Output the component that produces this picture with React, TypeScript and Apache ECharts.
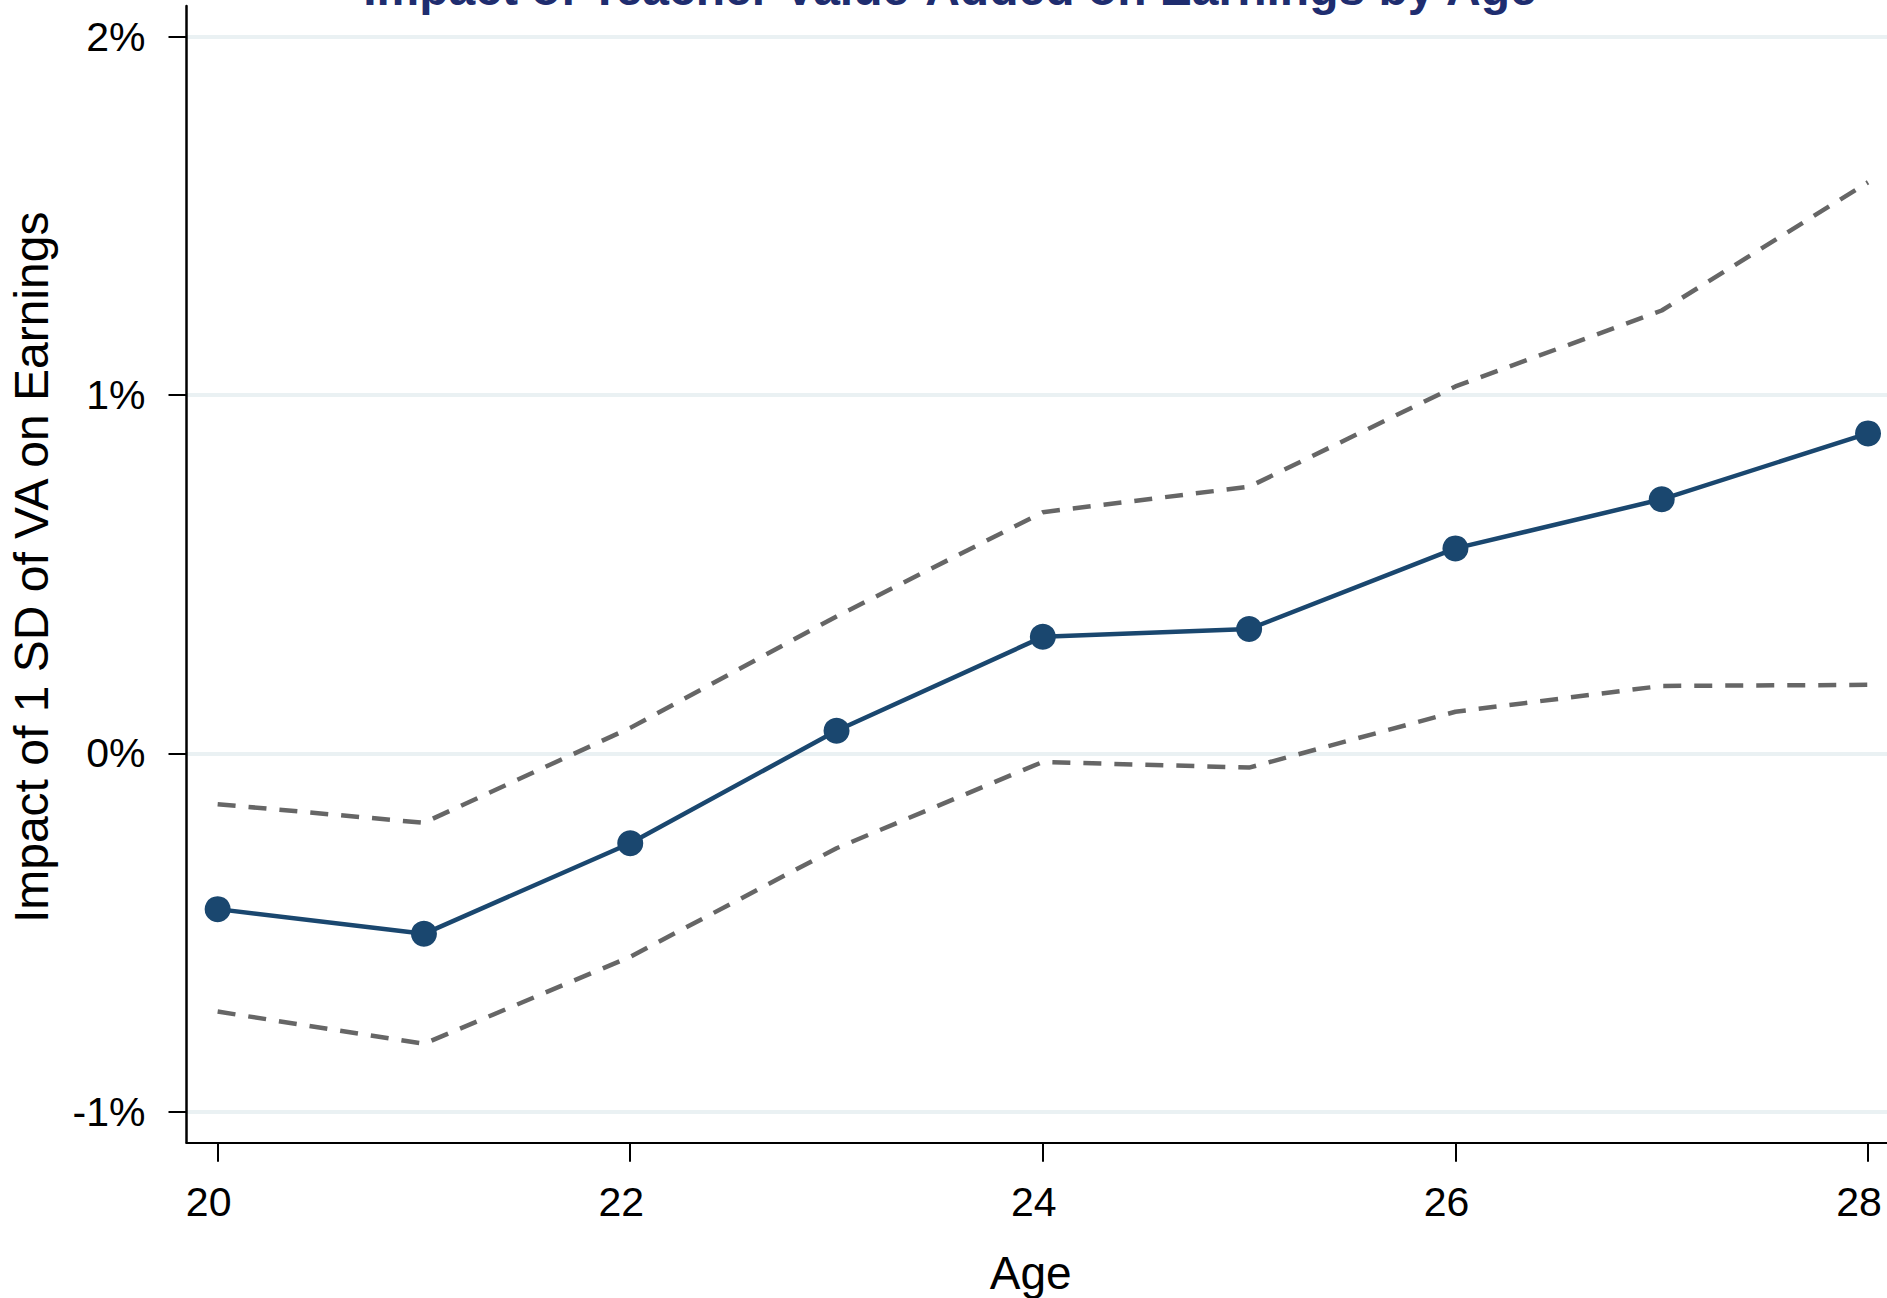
import React, { useEffect, useRef } from "react";
import * as echarts from "echarts";

const ages = [20, 21, 22, 23, 24, 25, 26, 27, 28];
const estimate = [-0.435, -0.504, -0.251, 0.063, 0.325, 0.347, 0.572, 0.709, 0.893];
const upperCI = [-0.142, -0.194, 0.071, 0.382, 0.673, 0.744, 1.024, 1.236, 1.594];
const lowerCI = [-0.721, -0.811, -0.568, -0.265, -0.024, -0.04, 0.116, 0.188, 0.191];
const xTicks = [20, 22, 24, 26, 28];
const yTicks = [-1, 0, 1, 2];

const titleText = "Impact of Teacher Value-Added on Earnings by Age";
const xName = "Age";
const yName = "Impact of 1 SD of VA on Earnings";

const FONT = "'Liberation Sans', Arial, Helvetica, sans-serif";

export default function App() {
  const ref = useRef<HTMLDivElement>(null);

  useEffect(() => {
    if (!ref.current) return;
    const chart = echarts.init(ref.current, undefined, { renderer: "svg" });
    const pairs = (ys: number[]) => ages.map((a, i) => [a, ys[i]]);
    chart.setOption({
      animation: false,
      backgroundColor: "#ffffff",
      title: {
        text: titleText,
        left: 950,
        textAlign: "center",
        top: -36,
        padding: 0,
        textStyle: {
          fontFamily: FONT,
          fontSize: 48,
          fontWeight: "bold",
          color: "#1f2d6f",
        },
      },
      grid: {
        left: 186.5,
        right: 0,
        top: 6,
        bottom: 155.3,
        containLabel: false,
        outerBoundsMode: "none",
      },
      xAxis: {
        type: "value",
        min: 19.849,
        max: 28.092,
        name: xName,
        nameLocation: "middle",
        nameGap: 107,
        nameTextStyle: { fontFamily: FONT, fontSize: 46, color: "#000", padding: [0, 12, 0, 0] },
        axisLine: { show: true, onZero: false, lineStyle: { color: "#000", width: 2 } },
        axisTick: {
          show: true,
          length: 19,
          customValues: xTicks,
          lineStyle: { color: "#000", width: 2 },
        },
        axisLabel: {
          customValues: xTicks,
          margin: 39,
          fontFamily: FONT,
          fontSize: 41,
          color: "#000",
          padding: [0, 18, 0, 0],
          formatter: (v: number) => String(v),
        },
        splitLine: { show: false },
      },
      yAxis: {
        type: "value",
        min: -1.087,
        max: 2.086,
        name: yName,
        nameLocation: "middle",
        nameGap: 131,
        nameTextStyle: { fontFamily: FONT, fontSize: 48, color: "#000", padding: [0, 0, 0, 14] },
        axisLine: { show: true, onZero: false, lineStyle: { color: "#000", width: 2.5 } },
        axisTick: {
          show: true,
          length: 18,
          customValues: yTicks,
          lineStyle: { color: "#000", width: 2 },
        },
        axisLabel: {
          customValues: yTicks,
          margin: 41,
          fontFamily: FONT,
          fontSize: 41,
          color: "#000",
          formatter: (v: number) => `${v}%`,
        },
        splitLine: { show: true, lineStyle: { color: "#eaf1f3", width: 4 } },
      },
      series: [
        {
          type: "line",
          name: "Upper CI",
          data: pairs(upperCI),
          showSymbol: false,
          symbol: "none",
          lineStyle: { color: "#666666", width: 4.5, type: [18, 13] },
          z: 2,
        },
        {
          type: "line",
          name: "Lower CI",
          data: pairs(lowerCI),
          showSymbol: false,
          symbol: "none",
          lineStyle: { color: "#666666", width: 4.5, type: [18, 13] },
          z: 2,
        },
        {
          type: "line",
          name: "Estimate",
          data: pairs(estimate),
          symbol: "circle",
          symbolSize: 26,
          itemStyle: { color: "#1a476f" },
          lineStyle: { color: "#1a476f", width: 4.5 },
          z: 3,
        },
      ],
    });
    return () => chart.dispose();
  }, []);

  return (
    <div
      ref={ref}
      style={{ position: "fixed", left: 0, top: 0, width: 1887, height: 1298, background: "#fff" }}
    />
  );
}
